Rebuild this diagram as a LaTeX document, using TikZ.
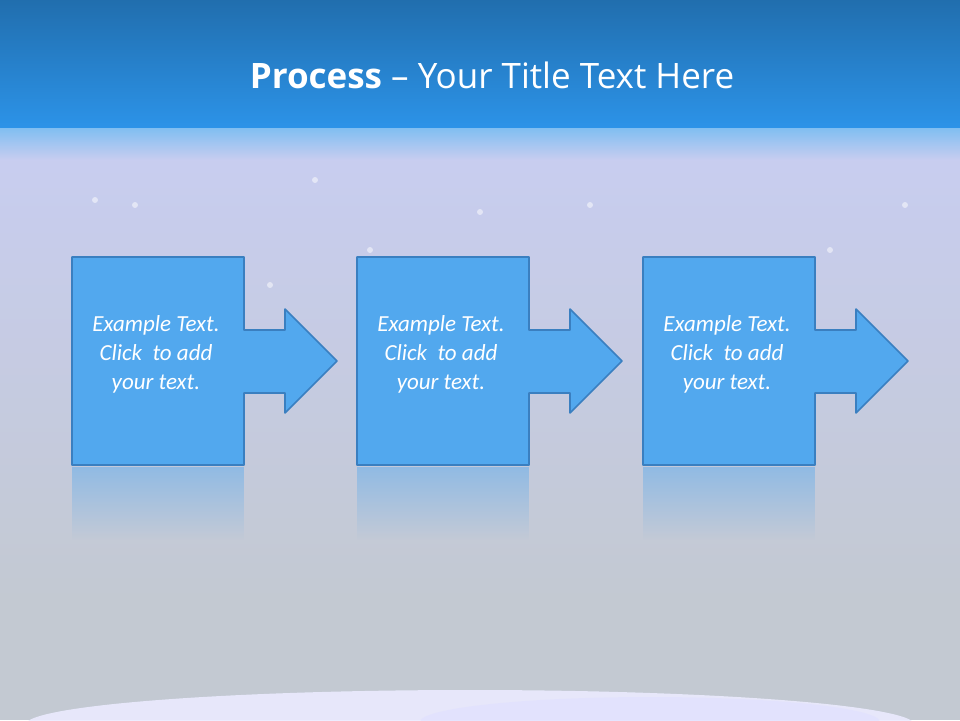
\documentclass[tikz,border=0pt]{standalone}
\usepackage{fontspec}
\setmainfont{Open Sans}
\newfontfamily\bodyfont{Carlito}
\usetikzlibrary{fadings,shadows}
\tikzfading[name=reflfade, top color=transparent!55, bottom color=transparent!100]
\definecolor{boxfill}{HTML}{52A8EE}
\definecolor{boxline}{HTML}{3A7FC0}
\definecolor{topblue}{HTML}{2C93E8}
\definecolor{bggray}{HTML}{C3C9D2}
\definecolor{haze}{HTML}{C8CDF0}
\tikzset{
  procshape/.style={fill=boxfill, draw=boxline, line width=1.6pt, line join=round},
  refl/.style={fill=boxfill, path fading=reflfade},
  lbl/.style={text=white, align=center, font=\bodyfont\itshape\fontsize{23}{29}\selectfont}
}
\begin{document}
\begin{tikzpicture}[x=1pt,y=-1pt]
\useasboundingbox (0,0) rectangle (960,720);
% background
\fill[bggray] (0,0) rectangle (960,720);
\shade[top color=haze, bottom color=bggray] (0,150) rectangle (960,600);
\shade[top color=topblue!75!black, bottom color=topblue] (0,0) rectangle (960,128);
\shade[top color=topblue!60!white, bottom color=haze] (0,128) rectangle (960,160);
\foreach \p in {(95,200),(135,205),(480,212),(590,205),(370,250),(315,180),(830,250),(905,205),(270,285)}
  \fill[white, opacity=0.5] \p circle (3);
\fill[white!92!blue, opacity=0.9] (470,725) ellipse (445 and 35);
\fill[blue!12!white, opacity=0.6] (650,722) ellipse (230 and 25);
% title
\node (title) at (492,75) {\fontsize{35}{40}\selectfont\color{white}\textbf{Process} -- Your Title Text Here};
% shapes
\foreach \x/\n in {72/a,357/b,643/c}{
  \draw[procshape] (\x,257) -- (\x+172,257) -- (\x+172,330) -- (\x+213,330) -- (\x+213,309)
    -- (\x+265,361) -- (\x+213,413) -- (\x+213,393) -- (\x+172,393) -- (\x+172,465)
    -- (\x,465) -- cycle;
  \fill[refl] (\x,467) rectangle (\x+172,540);
  \node[lbl] (\n) at (\x+84,354) {Example Text.\\Click\ \ to add\\your text.};
}
\end{tikzpicture}
\end{document}
